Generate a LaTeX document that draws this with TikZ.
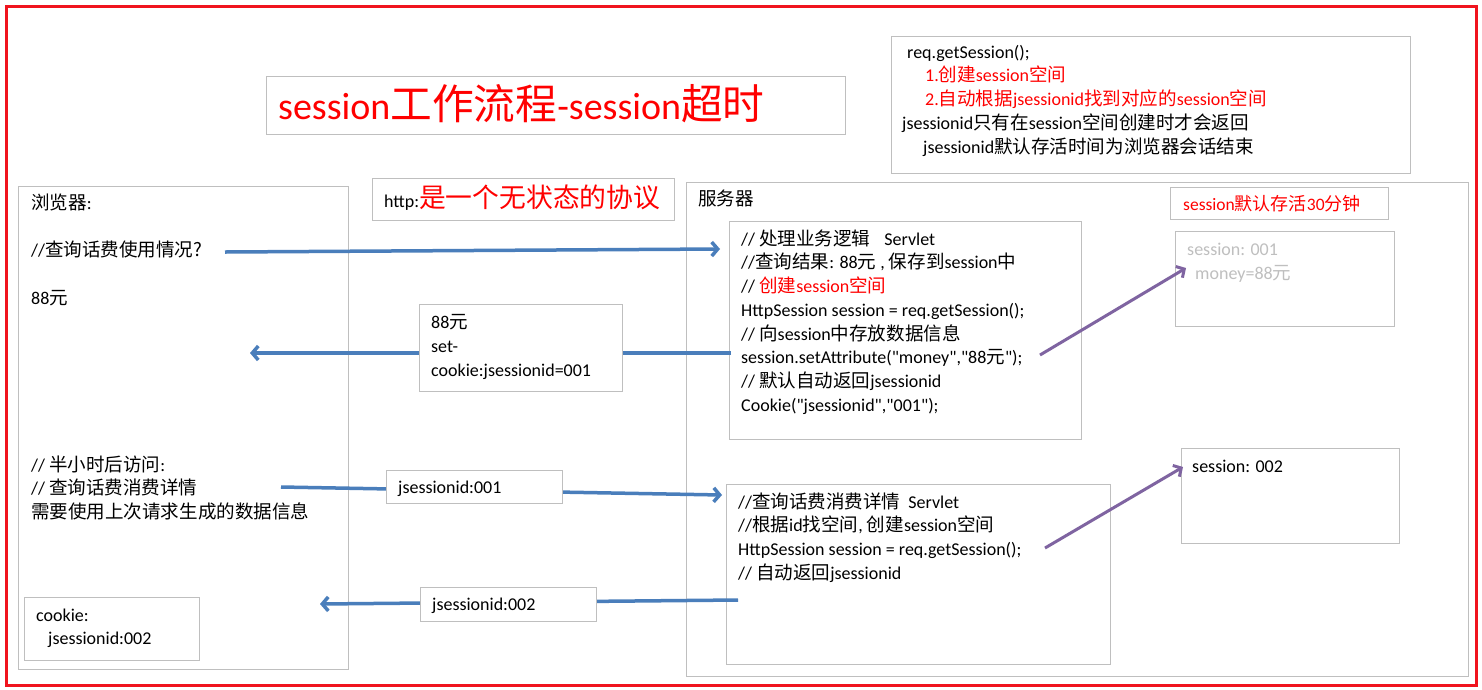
\documentclass[tikz,border=0pt]{standalone}
\usepackage{fontspec}
\setmainfont[Ligatures=TeXOff]{Carlito}
\newfontfamily\cjk[Scale=1.03]{Noto Sans CJK SC}
\usetikzlibrary{arrows.meta,calc}
\definecolor{bordergray}{HTML}{BFBFBF}
\definecolor{arrowblue}{HTML}{4A7EBB}
\definecolor{arrowpurple}{HTML}{7F64A1}
\definecolor{softtext}{HTML}{BFBFBF}
\definecolor{framered}{HTML}{F0141E}
\newcommand\zh[1]{{\cjk #1}}
\newcommand\stk[2][24pt]{\vtop{\baselineskip=#1\lineskiplimit=-100pt\halign{##\hfil\cr#2\crcr}}}
\begin{document}
\begin{tikzpicture}[x=1pt,y=-1pt,
  font=\fontsize{18}{24}\selectfont,
  box/.style={draw=bordergray, line width=1.2pt, fill=white, anchor=north west, inner sep=0pt},
  txt/.style={anchor=base west, inner sep=0pt},
  barrow/.style={draw=arrowblue, line width=3.5pt, -{Straight Barb[length=6pt,width=14pt]}},
  parrow/.style={draw=arrowpurple, line width=3pt, -{Straight Barb[length=6pt,width=13pt]}}]
\useasboundingbox (0,0) rectangle (1482,689);
\fill[white] (0,0) rectangle (1482,689);
% outer frame
\node[draw=framered, line width=3pt, anchor=north west, inner sep=0pt, minimum width=1470pt, minimum height=679pt] (frame) at (5,5) {};
% large boxes
\node[box, minimum width=579pt, minimum height=58pt] (title) at (266,76) {};
\node[box, minimum width=519pt, minimum height=137pt] (tr) at (891,36) {};
\node[box, minimum width=330pt, minimum height=483pt] (browser) at (18,186) {};
\node[box, minimum width=302pt, minimum height=42pt] (http) at (372,178) {};
\node[box, minimum width=782pt, minimum height=494pt] (server) at (686,182) {};
\node[box, minimum width=218pt, minimum height=32pt] (ttl) at (1170,187) {};
\node[box, minimum width=352pt, minimum height=218pt] (s1) at (729,221) {};
\node[box, minimum width=219pt, minimum height=95pt] (sess1) at (1175,231) {};
\node[box, minimum width=384pt, minimum height=180pt] (s2) at (726,484) {};
\node[box, minimum width=218pt, minimum height=95pt] (sess2) at (1181,448) {};
\node[box, minimum width=175pt, minimum height=63pt] (ck) at (24,597) {};
% free ends
\coordinate (q1) at (225,252);
\coordinate (r1end) at (250,353);
\coordinate (q3) at (281,487);
\coordinate (r2end) at (320,604);
% arrows
\draw[barrow] (q1) -- ($(s1.north west)+(-9,28)$);
\draw[barrow] ($(s1.north west)+(2,132)$) -- (r1end);
\draw[barrow] (q3) -- ($(s2.north west)+(-4,11)$);
\draw[barrow] ($(s2.north west)+(12,116)$) -- (r2end);
\draw[parrow] ($(s1.north west)+(311,134)$) -- ($(sess1.north west)+(11,37)$);
\draw[parrow] ($(s2.north west)+(319,64)$) -- ($(sess2.north west)+(2,19)$);
% label boxes on arrows
\node[box, minimum width=203pt, minimum height=87pt] (r1) at (419,304) {};
\node[box, minimum width=176pt, minimum height=33pt] (j1) at (386,470) {};
\node[box, minimum width=176pt, minimum height=34pt] (j2) at (420,587) {};
% texts
\node[txt, text=red] (titletext) at (278,119) {\fontsize{38}{44}\selectfont session{\cjk\fontsize{40.5}{44}\selectfont 工作流程}-session{\cjk\fontsize{40.5}{44}\selectfont 超时}};
\node[txt] (trtext) at (902,58) {\stk[23.8pt]{%
\hspace{5pt}req.getSession();\cr
\hspace{23pt}\color{red}1.\zh{创建}session\zh{空间}\cr
\hspace{23pt}\color{red}2.\zh{自动根据}jsessionid\zh{找到对应的}session\zh{空间}\cr
jsessionid\zh{只有在}session\zh{空间创建时才会返回}\cr
\hspace{21pt}jsessionid\zh{默认存活时间为浏览器会话结束}}};
\node[txt] (httptext) at (384,207) {http:{\color{red}\cjk\fontsize{26}{30}\selectfont 是一个无状态的协议}};
\node[txt] (browsertext) at (31,209) {\stk[23.75pt]{%
\zh{浏览器}:\cr \cr
//\zh{查询话费使用情况?}\cr \cr
88\zh{元}}};
\node[txt] (browsertext2) at (31,471) {\stk[23.5pt]{%
// \zh{半小时后访问}:\cr
// \zh{查询话费消费详情}\cr
\zh{需要使用上次请求生成的数据信息}}};
\node[txt] (cktext) at (36,621) {\stk[23pt]{cookie:\cr \hspace{12pt}jsessionid:002}};
\node[txt] (r1text) at (431,328) {\stk[24pt]{88\zh{元}\cr set-\cr cookie:jsessionid=001}};
\node[txt] (j1text) at (398,493) {jsessionid:001};
\node[txt] (j2text) at (432,610) {jsessionid:002};
\node[txt] (servertext) at (698,205) {\zh{服务器}};
\node[txt, text=red] (ttltext) at (1183,210) {\fontsize{17.5}{20}\selectfont session\zh{默认存活}30\zh{分钟}};
\node[txt] (s1text) at (741,245) {\stk[23.75pt]{%
// \zh{处理业务逻辑}\hspace{14pt}Servlet\cr
//\zh{查询结果}: 88\zh{元} , \zh{保存到}session\zh{中}\cr
// {\color{red}\zh{创建}session\zh{空间}}\cr
HttpSession session = req.getSession();\cr
// \zh{向}session\zh{中存放数据信息}\cr
session.setAttribute("money","88\zh{元}");\cr
// \zh{默认自动返回}jsessionid\cr
Cookie("jsessionid","001");}};
\node[txt] (s2text) at (738,508) {\stk[23.75pt]{%
//\zh{查询话费消费详情}\hspace{8pt}Servlet\cr
//\zh{根据}id\zh{找空间}, \zh{创建}session\zh{空间}\cr
HttpSession session = req.getSession();\cr
// \zh{自动返回}jsessionid}};
\node[txt, text=softtext] (sess1text) at (1187,255) {\stk[24pt]{session: 001\cr \hspace{8pt}money=88\zh{元}}};
\node[txt] (sess2text) at (1192,472) {session: 002};
\end{tikzpicture}
\end{document}
